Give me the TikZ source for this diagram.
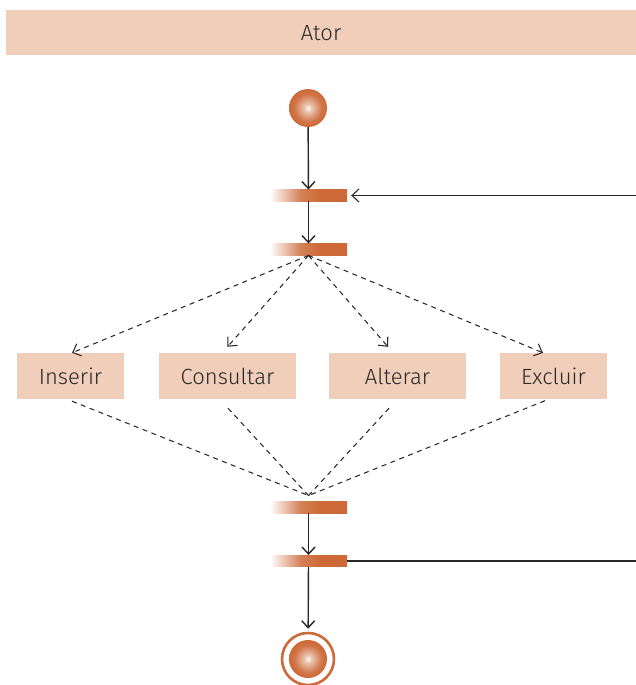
\documentclass[tikz,border=0pt]{standalone}
\usepackage{fontspec}
\setmainfont{Fira Sans}[UprightFont={* Light}]
\usepackage{xcolor}
\usepackage{tikz}
\usetikzlibrary{arrows.meta,positioning,shapes}

\definecolor{boxc}{RGB}{241,206,185}
\definecolor{barc}{RGB}{205,105,55}
\definecolor{inkc}{RGB}{40,40,40}

\pgfdeclarehorizontalshading{barfade}{100bp}{color(0bp)=(white); color(25bp)=(white); color(45bp)=(barc!85); color(58bp)=(barc); color(100bp)=(barc)}
\pgfdeclareradialshading{ballfade}{\pgfpoint{0bp}{0bp}}{color(0bp)=(white!95!barc); color(5bp)=(white!60!barc); color(18bp)=(barc!92); color(25bp)=(barc); color(50bp)=(barc)}

\begin{document}
\begin{tikzpicture}[x=1pt,y=-1pt,
  every node/.style={font=\fontsize{22}{25}\selectfont, text=inkc},
  act/.style={rectangle, fill=boxc, minimum height=46pt, inner sep=0pt},
  syncbar/.style={rectangle, shading=barfade, minimum width=77pt, minimum height=11.5pt, inner sep=0pt},
  ball/.style={circle, shading=ballfade, minimum size=38pt, inner sep=0pt},
  flow/.style={draw=inkc, line width=1.4pt, -{Straight Barb[length=7pt,width=13pt]}},
  choice/.style={draw=inkc, line width=1.05pt, dash pattern=on 5pt off 4.5pt},
  choicearrow/.style={choice, -{Straight Barb[length=7pt,width=13pt,line width=1.05pt]}}]
\useasboundingbox (0,0) rectangle (636,685);

% swimlane header
\node[act, minimum width=630pt, minimum height=45.5pt] (lane) at (321,32.75) {Ator};

% start, forks and end
\node[ball] (start) at (308,108) {};
\node[syncbar] (fork1) at (308.5,195.5) {};
\node[syncbar] (fork2) at (308.5,249.5) {};
\node[syncbar] (join1) at (308.5,507.5) {};
\node[syncbar] (join2) at (308.5,561) {};
\node[circle, draw=barc, line width=2.6pt, fill=white, minimum size=52pt, inner sep=0pt] (stop) at (308,659) {};
\node[ball] (stopcore) at (308,659) {};

% actions
\node[act, minimum width=107pt] (ins) at (70.5,376) {Inserir};
\node[act, minimum width=137pt] (cons) at (227.5,376) {Consultar};
\node[act, minimum width=137pt] (alt) at (397.5,376) {Alterar};
\node[act, minimum width=107pt] (excl) at (553.5,376) {Excluir};

\coordinate (loopin) at (636,195.5);
\coordinate (loopout) at (636,561);

% solid flow
\draw[flow] (start) -- (fork1);
\draw[flow] (fork1) -- (fork2);
\draw[flow] (join1) -- (join2);
\draw[flow, shorten >=3pt] (join2) -- (stop);
\draw[flow, line width=1.1pt, shorten >=4pt] (loopin) -- (fork1);
\draw[draw=inkc, line width=1.1pt] (join2) -- (loopout);

% options
\draw[choicearrow] (fork2.south) -- ([xshift=1.5pt]ins.north);
\draw[choicearrow] (fork2.south) -- ([yshift=6pt]cons.north);
\draw[choicearrow] (fork2.south) -- ([xshift=-9.5pt,yshift=6pt]alt.north);
\draw[choicearrow] (fork2.south) -- ([xshift=-10.5pt]excl.north);

\draw[choice] ([xshift=1.5pt,yshift=-2pt]ins.south) -- ([yshift=6pt]join1.north);
\draw[choice] ([xshift=0.5pt,yshift=-9pt]cons.south) -- ([yshift=6pt]join1.north);
\draw[choice] ([xshift=-8.5pt,yshift=-9pt]alt.south) -- ([yshift=6pt]join1.north);
\draw[choice] ([xshift=-8.5pt,yshift=-1.5pt]excl.south) -- ([yshift=6pt]join1.north);
\end{tikzpicture}
\end{document}
